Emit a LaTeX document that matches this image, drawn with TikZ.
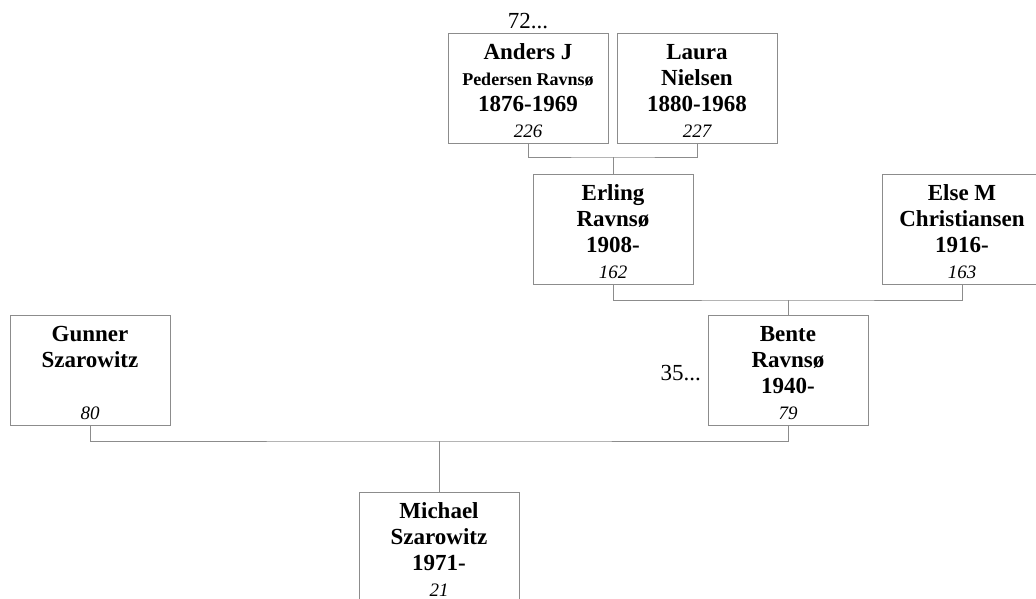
\documentclass[tikz,border=0pt]{standalone}
\usepackage{fontspec}
\setmainfont{Liberation Serif}
\newfontfamily\cardfont{Liberation Serif}
\definecolor{linegray}{RGB}{140,140,140}
\newcommand\personcard[1]{\parbox[t][110pt][t]{160pt}{\centering\cardfont\fontsize{23}{26}\selectfont\bfseries\rule{0pt}{26pt}#1}}
\newcommand\numtxt[1]{{\mdseries\itshape\fontsize{19}{26}\selectfont #1}}
\tikzset{
  person/.style={draw=linegray, line width=1pt, minimum width=160pt, minimum height=110pt, inner sep=0pt, fill=white},
  conn/.style={draw=linegray, line width=1pt},
  lab/.style={font=\fontsize{23}{26}\selectfont, inner sep=0pt}
}
\begin{document}
\begin{tikzpicture}[x=1pt,y=-1pt]
\useasboundingbox (0,0) rectangle (1036,598);
\clip (0,0) rectangle (1036,598);
% connectors
\coordinate (m1) at (613,157);
\coordinate (m2) at (788,300);
\coordinate (m3) at (439,441);
% persons
\node[person] (anders) at (528,88) {\personcard{Anders J\\{\fontsize{18}{26}\selectfont Pedersen Ravnsø}\\1876-1969\\\numtxt{226}}};
\node[person] (laura) at (697,88) {\personcard{Laura\\Nielsen\\1880-1968\\\numtxt{227}}};
\node[person] (erling) at (613,229) {\personcard{Erling\\Ravnsø\\1908-\\\numtxt{162}}};
\node[person] (else) at (962,229) {\personcard{Else M\\Christiansen\\1916-\\\numtxt{163}}};
\node[person] (gunner) at (90,370.5) {\personcard{Gunner\\Szarowitz\\\mbox{}\\\numtxt{80}}};
\node[person] (bente) at (788,370.5) {\personcard{Bente\\Ravnsø\\1940-\\\numtxt{79}}};
\node[person] (michael) at (439,547) {\personcard{Michael\\Szarowitz\\1971-\\\numtxt{21}}};
\draw[conn] (anders.south) |- (m1) -| (laura.south);
\draw[conn] (m1) -- (erling.north);
\draw[conn] (erling.south) |- (m2) -| (else.south);
\draw[conn] (m2) -- (bente.north);
\draw[conn] (gunner.south) |- (m3) -| (bente.south);
\draw[conn] (m3) -- (michael.north);
% labels
\node[lab, anchor=base] (l72) at (528,28) {72...};
\node[lab, anchor=base east] (l35) at (701,380) {35...};
\end{tikzpicture}
\end{document}
